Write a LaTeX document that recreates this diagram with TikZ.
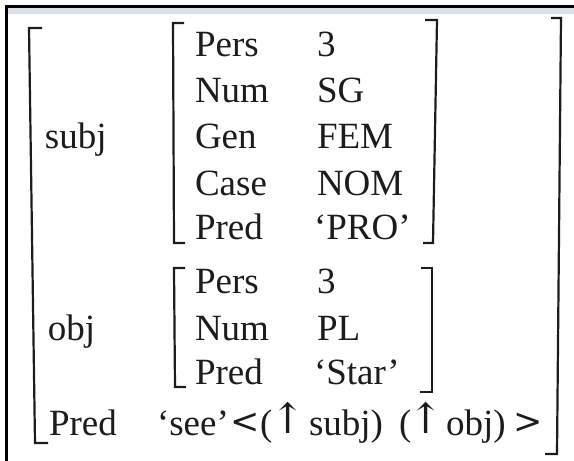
\documentclass[tikz,border=0pt]{standalone}
\usepackage{fontspec}
\setmainfont{Liberation Serif}
\newfontfamily\symfam{DejaVu Serif}
\definecolor{ink}{HTML}{1C1C1C}
\definecolor{band}{HTML}{DDE1EC}
\begin{document}
\begin{tikzpicture}[x=1pt,y=-1pt,
  lbl/.style={anchor=base west,inner sep=0pt,outer sep=0pt,text=ink,
    font=\fontsize{37}{42}\selectfont},
  rel/.style={lbl,font=\symfam\fontsize{35}{40}\selectfont},
  arr/.style={lbl,font=\symfam\fontsize{42}{46}\selectfont},
  brk/.style={draw=ink,line width=2.2pt,line join=miter}]
\useasboundingbox (0,0) rectangle (574,461);
% window frame: top and left edges with a pale band below the top edge
\fill[band] (8,8) rectangle (574,14);
\fill[black] (5,5) rectangle (574,8.2);
\fill[black] (5,5) rectangle (7.8,461);

% outer brackets
\draw[brk] (42,28) -- (29,28) -- (35,443) -- (48,443);
\draw[brk] (551,18) -- (561,18) -- (557,454) -- (545,454);
% subj brackets
\draw[brk] (184,23) -- (173,23) -- (174,243) -- (185,243);
\draw[brk] (425,20) -- (437,20) -- (433,243) -- (423,243);
% obj brackets
\draw[brk] (185,268) -- (174,268) -- (175,387) -- (186,387);
\draw[brk] (421,268) -- (432,268) -- (432,392) -- (420,392);

% outer attributes
\node[lbl] (subj) at (45,148) {subj};
\node[lbl] (obj) at (48,340) {obj};
\node[lbl] (pred) at (49,435) {Pred};

% subj value
\node[lbl] (sa1) at (195,56) {Pers};
\node[lbl] (sa2) at (195,102) {Num};
\node[lbl] (sa3) at (195,148) {Gen};
\node[lbl] (sa4) at (195,195) {Case};
\node[lbl] (sa5) at (195,239) {Pred};
\node[lbl] (sv1) at (317,56) {3};
\node[lbl] (sv2) at (317,102) {SG};
\node[lbl] (sv3) at (317,148) {FEM};
\node[lbl] (sv4) at (317,195) {NOM};
\node[lbl] (sv5) at (314,239) {‘PRO’};

% obj value
\node[lbl] (oa1) at (195,293) {Pers};
\node[lbl] (oa2) at (195,340) {Num};
\node[lbl] (oa3) at (195,384) {Pred};
\node[lbl] (ov1) at (317,293) {3};
\node[lbl] (ov2) at (317,340) {PL};
\node[lbl] (ov3) at (314,384) {‘Star’};

% pred value with its argument list
\node[lbl] (see) at (157,435) {‘see’};
\node[rel] (lt) at (230,433) {<};
\node[lbl] (lp1) at (260,435) {(};
\node[arr] (up1) at (270,433) {↑};
\node[lbl] (arg1) at (309,435) {subj)};
\node[lbl] (lp2) at (399,435) {(};
\node[arr] (up2) at (408,433) {↑};
\node[lbl] (arg2) at (446,435) {obj)};
\node[rel] (gt) at (513,433) {>};
\end{tikzpicture}
\end{document}
